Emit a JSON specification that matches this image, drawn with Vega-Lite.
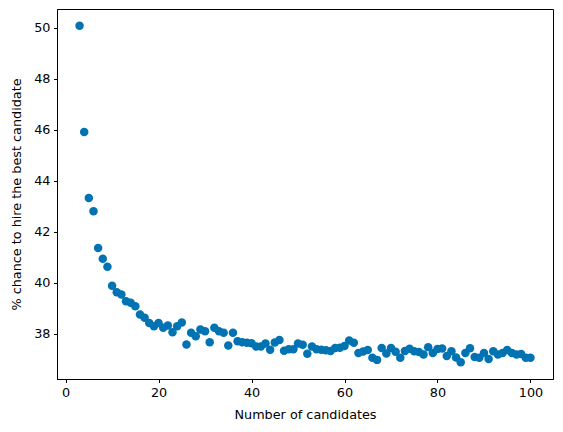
{
  "$schema": "https://vega.github.io/schema/vega-lite/v6.json",
  "autosize": "none",
  "padding": {"left": 57, "top": 9, "right": 10, "bottom": 53},
  "width": 496,
  "height": 370,
  "background": "white",
  "config": {
    "view": {"stroke": "black", "strokeWidth": 1},
    "axis": {
      "grid": false,
      "domainColor": "black",
      "tickColor": "black",
      "tickSize": 3.5,
      "labelFont": "DejaVu Sans",
      "labelFontSize": 12.8,
      "labelColor": "black",
      "labelPadding": 3.5,
      "titleFont": "DejaVu Sans",
      "titleFontSize": 12.8,
      "titleFontWeight": "normal",
      "titleColor": "black"
    }
  },
  "data": {
    "values": [
      {"n": 3, "p": 50.08}, {"n": 4, "p": 45.92}, {"n": 5, "p": 43.33}, {"n": 6, "p": 42.81},
      {"n": 7, "p": 41.37}, {"n": 8, "p": 40.95}, {"n": 9, "p": 40.63}, {"n": 10, "p": 39.89},
      {"n": 11, "p": 39.63}, {"n": 12, "p": 39.54}, {"n": 13, "p": 39.28}, {"n": 14, "p": 39.22},
      {"n": 15, "p": 39.08}, {"n": 16, "p": 38.76}, {"n": 17, "p": 38.63}, {"n": 18, "p": 38.43},
      {"n": 19, "p": 38.3}, {"n": 20, "p": 38.43}, {"n": 21, "p": 38.24}, {"n": 22, "p": 38.33},
      {"n": 23, "p": 38.06}, {"n": 24, "p": 38.3}, {"n": 25, "p": 38.45}, {"n": 26, "p": 37.58},
      {"n": 27, "p": 38.04}, {"n": 28, "p": 37.91}, {"n": 29, "p": 38.17}, {"n": 30, "p": 38.1},
      {"n": 31, "p": 37.67}, {"n": 32, "p": 38.24}, {"n": 33, "p": 38.1}, {"n": 34, "p": 38.04},
      {"n": 35, "p": 37.54}, {"n": 36, "p": 38.04}, {"n": 37, "p": 37.71}, {"n": 38, "p": 37.67},
      {"n": 39, "p": 37.65}, {"n": 40, "p": 37.63}, {"n": 41, "p": 37.5}, {"n": 42, "p": 37.5},
      {"n": 43, "p": 37.62}, {"n": 44, "p": 37.38}, {"n": 45, "p": 37.66}, {"n": 46, "p": 37.76},
      {"n": 47, "p": 37.34}, {"n": 48, "p": 37.4}, {"n": 49, "p": 37.4}, {"n": 50, "p": 37.62},
      {"n": 51, "p": 37.57}, {"n": 52, "p": 37.22}, {"n": 53, "p": 37.5}, {"n": 54, "p": 37.4},
      {"n": 55, "p": 37.38}, {"n": 56, "p": 37.36}, {"n": 57, "p": 37.33}, {"n": 58, "p": 37.45},
      {"n": 59, "p": 37.46}, {"n": 60, "p": 37.52}, {"n": 61, "p": 37.74}, {"n": 62, "p": 37.65},
      {"n": 63, "p": 37.25}, {"n": 64, "p": 37.31}, {"n": 65, "p": 37.37}, {"n": 66, "p": 37.06},
      {"n": 67, "p": 36.98}, {"n": 68, "p": 37.45}, {"n": 69, "p": 37.23}, {"n": 70, "p": 37.45},
      {"n": 71, "p": 37.3}, {"n": 72, "p": 37.06}, {"n": 73, "p": 37.33}, {"n": 74, "p": 37.42},
      {"n": 75, "p": 37.32}, {"n": 76, "p": 37.29}, {"n": 77, "p": 37.19}, {"n": 78, "p": 37.48},
      {"n": 79, "p": 37.25}, {"n": 80, "p": 37.41}, {"n": 81, "p": 37.43}, {"n": 82, "p": 37.13},
      {"n": 83, "p": 37.32}, {"n": 84, "p": 37.07}, {"n": 85, "p": 36.89}, {"n": 86, "p": 37.25},
      {"n": 87, "p": 37.44}, {"n": 88, "p": 37.09}, {"n": 89, "p": 37.06}, {"n": 90, "p": 37.25},
      {"n": 91, "p": 37.01}, {"n": 92, "p": 37.32}, {"n": 93, "p": 37.19}, {"n": 94, "p": 37.25},
      {"n": 95, "p": 37.37}, {"n": 96, "p": 37.25}, {"n": 97, "p": 37.19}, {"n": 98, "p": 37.21},
      {"n": 99, "p": 37.06}, {"n": 100, "p": 37.06}
    ]
  },
  "mark": {"type": "circle", "size": 72, "color": "#0173b2", "opacity": 1},
  "encoding": {
    "x": {
      "field": "n",
      "type": "quantitative",
      "title": "Number of candidates",
      "scale": {"domain": [-1.85, 104.85], "nice": false, "zero": false},
      "axis": {"values": [0, 20, 40, 60, 80, 100], "titlePadding": 10}
    },
    "y": {
      "field": "p",
      "type": "quantitative",
      "title": "% chance to hire the best candidate",
      "scale": {"domain": [36.23, 50.74], "nice": false, "zero": false},
      "axis": {"values": [38, 40, 42, 44, 46, 48, 50], "titlePadding": 10}
    }
  }
}
